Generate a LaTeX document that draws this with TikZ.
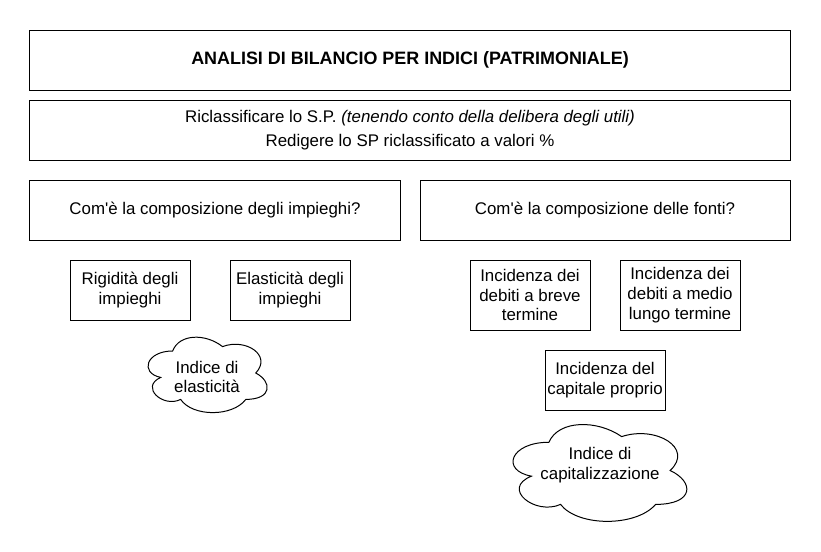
\documentclass[tikz,border=0pt]{standalone}
\usepackage{fontspec}
\setmainfont{Liberation Sans}

\begin{document}
\begin{tikzpicture}[x=0.03cm, y=-0.03cm,
    txt/.style={font=\fontsize{14.4}{17}\selectfont, align=center},
    box/.style={txt, draw, line width=0.85pt, inner sep=0pt},
    puff/.pic={
      \draw[line width=0.85pt] (0.25,0.25) .. controls (0.05,0.25) and (0,0.5) .. (0.16,0.55)
        .. controls (0,0.66) and (0.18,0.9) .. (0.31,0.8)
        .. controls (0.4,1) and (0.7,1) .. (0.8,0.8)
        .. controls (1,0.8) and (1,0.6) .. (0.875,0.5)
        .. controls (1,0.3) and (0.8,0.1) .. (0.625,0.2)
        .. controls (0.5,0.05) and (0.3,0.05) .. (0.25,0.25) -- cycle;
    }]
  \useasboundingbox (0,0) rectangle (821,551);
  % header rows
  \node[box, minimum width=22.8cm, minimum height=1.8cm, font=\fontsize{15.3}{18}\selectfont\bfseries] (title) at (410,60) {ANALISI DI BILANCIO PER INDICI (PATRIMONIALE)};
  \node[box, minimum width=22.8cm, minimum height=1.8cm, font=\fontsize{14.4}{20.5}\selectfont] (riclass) at (410,130)
    {Riclassificare lo S.P. \textit{(tenendo conto della delibera degli utili)}\\Redigere lo SP riclassificato a valori \%};
  % questions
  \node[box, minimum width=11.1cm, minimum height=1.8cm] (impieghi) at (215,210) {Com\textquotesingle è la composizione degli impieghi?};
  \node[box, minimum width=11.1cm, minimum height=1.8cm] (fonti) at (605,210) {Com\textquotesingle è la composizione delle fonti?};
  % impieghi side
  \node[box, minimum width=3.6cm, minimum height=1.8cm] (rigid) at (130,290) {Rigidità degli\\impieghi};
  \node[box, minimum width=3.6cm, minimum height=1.8cm] (elast) at (290,290) {Elasticità degli\\impieghi};
  \pic[xscale=133, yscale=88] at (139.4,329) {puff};
  \node[txt] (indelast) at (207,377) {Indice di\\elasticità};
  % fonti side
  \node[box, minimum width=3.6cm, minimum height=2.1cm] (breve) at (530,295) {Incidenza dei\\debiti a breve\\termine};
  \node[box, minimum width=3.6cm, minimum height=2.1cm] (medio) at (680,295) {Incidenza dei\\debiti a medio\\lungo termine};
  \node[box, minimum width=3.6cm, minimum height=1.8cm] (proprio) at (605,380) {Incidenza del\\capitale proprio};
  \pic[xscale=194, yscale=113] at (500.4,414) {puff};
  \node[txt] (indcap) at (600,465) {Indice di\\capitalizzazione};
\end{tikzpicture}
\end{document}
